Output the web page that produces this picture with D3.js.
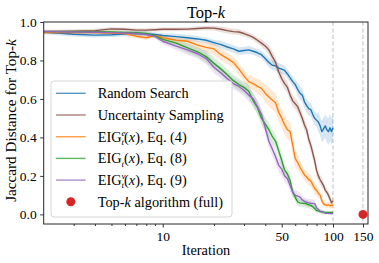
<!DOCTYPE html>
<html>
<head>
<meta charset="utf-8">
<script src="https://cdn.jsdelivr.net/npm/d3@7"></script>
<style>
  body { margin: 0; background: #fff; }
</style>
</head>
<body>
<svg id="chart"></svg>
<script>
// Iterations at which each curve is sampled
var iters = [2,3,4,5,6,7,8,9,10,12,14,16,18,20,22,24,26,28,30,32,34,36,38,40,42,44,46,48,50,
             52,54,56,58,60,62,64,66,68,70,72,74,76,78,80,82,84,86,88,90,92,94,96,98,100];

// Mean Jaccard distance per method
var randomSearch = [0.948,0.936,0.932,0.934,0.938,0.94,0.938,0.935,0.93,0.924,0.918,0.912,0.905,0.893,0.882,0.87,0.86,0.848,0.852,0.855,0.848,0.84,0.83,0.81,0.79,0.775,0.772,0.76,0.755,
                    0.748,0.73,0.71,0.69,0.675,0.65,0.63,0.62,0.585,0.565,0.55,0.545,0.52,0.5,0.49,0.48,0.46,0.43,0.445,0.46,0.44,0.43,0.45,0.43,0.45];
var uncertainty  = [0.95,0.952,0.955,0.964,0.962,0.958,0.958,0.96,0.962,0.962,0.963,0.966,0.969,0.968,0.962,0.955,0.95,0.948,0.94,0.93,0.92,0.905,0.89,0.875,0.855,0.82,0.79,0.74,0.705,
                    0.68,0.66,0.62,0.59,0.575,0.56,0.53,0.5,0.465,0.44,0.39,0.36,0.32,0.28,0.23,0.2,0.18,0.165,0.15,0.125,0.115,0.1,0.08,0.06,0.07];
var eigE         = [0.945,0.945,0.945,0.943,0.94,0.926,0.918,0.93,0.918,0.905,0.9,0.88,0.868,0.86,0.83,0.81,0.79,0.755,0.72,0.69,0.68,0.665,0.655,0.63,0.61,0.595,0.58,0.53,0.5,
                    0.465,0.44,0.43,0.36,0.29,0.27,0.245,0.225,0.205,0.195,0.18,0.175,0.155,0.135,0.125,0.11,0.1,0.07,0.055,0.05,0.047,0.05,0.045,0.047,0.047];
var eigT         = [0.95,0.95,0.949,0.948,0.946,0.945,0.94,0.928,0.91,0.89,0.865,0.845,0.82,0.785,0.755,0.725,0.695,0.675,0.66,0.64,0.59,0.555,0.5,0.47,0.44,0.405,0.38,0.33,0.28,
                    0.23,0.21,0.175,0.115,0.09,0.065,0.06,0.058,0.057,0.055,0.05,0.047,0.04,0.03,0.02,0.018,0.014,0.012,0.012,0.01,0.01,0.01,0.01,0.01,0.01];
var eigV         = [0.95,0.948,0.947,0.945,0.943,0.94,0.935,0.925,0.9,0.875,0.855,0.835,0.81,0.765,0.735,0.705,0.68,0.665,0.645,0.62,0.6,0.56,0.52,0.45,0.38,0.34,0.3,0.255,0.235,
                    0.2,0.185,0.15,0.115,0.1,0.095,0.09,0.075,0.068,0.063,0.06,0.058,0.057,0.056,0.035,0.025,0.017,0.015,0.01,0.006,0.005,0.005,0.004,0.004,0.004];

// Half-width of the shaded band per method
var randomSpread = [0.012,0.012,0.012,0.012,0.012,0.012,0.012,0.012,0.012,0.015,0.015,0.015,0.015,0.015,0.02,0.02,0.02,0.02,0.02,0.02,0.02,0.02,0.02,0.02,0.025,0.025,0.025,0.025,0.025,
                    0.025,0.025,0.025,0.025,0.025,0.035,0.035,0.035,0.035,0.035,0.035,0.035,0.035,0.035,0.035,0.05,0.05,0.055,0.06,0.06,0.065,0.07,0.07,0.07,0.07];
var uncertSpread = [0.01,0.01,0.01,0.01,0.01,0.01,0.01,0.01,0.01,0.01,0.01,0.012,0.012,0.012,0.015,0.015,0.015,0.015,0.015,0.015,0.015,0.015,0.02,0.02,0.025,0.03,0.03,0.03,0.03,
                    0.03,0.03,0.03,0.03,0.03,0.03,0.03,0.03,0.03,0.03,0.03,0.03,0.03,0.03,0.03,0.025,0.025,0.025,0.02,0.02,0.02,0.02,0.02,0.02,0.02];
var eigESpread   = [0.008,0.008,0.008,0.008,0.008,0.01,0.01,0.01,0.012,0.015,0.018,0.02,0.025,0.03,0.03,0.03,0.03,0.03,0.03,0.035,0.035,0.04,0.04,0.045,0.05,0.05,0.05,0.05,0.05,
                    0.05,0.05,0.05,0.05,0.045,0.04,0.035,0.03,0.03,0.03,0.03,0.03,0.03,0.03,0.03,0.025,0.02,0.02,0.015,0.015,0.015,0.015,0.015,0.015,0.015];
var eigTSpread   = [0.008,0.008,0.008,0.008,0.008,0.008,0.01,0.012,0.015,0.02,0.025,0.025,0.03,0.03,0.03,0.03,0.03,0.03,0.03,0.035,0.035,0.035,0.035,0.035,0.035,0.035,0.035,0.035,0.035,
                    0.03,0.03,0.03,0.025,0.02,0.02,0.02,0.02,0.02,0.02,0.02,0.02,0.015,0.015,0.012,0.01,0.01,0.01,0.01,0.008,0.008,0.008,0.008,0.008,0.008];
var eigVSpread   = [0.008,0.008,0.008,0.008,0.008,0.008,0.01,0.012,0.015,0.02,0.025,0.025,0.03,0.03,0.03,0.03,0.03,0.03,0.03,0.035,0.035,0.035,0.035,0.035,0.035,0.035,0.035,0.035,0.035,
                    0.03,0.03,0.03,0.025,0.025,0.025,0.02,0.02,0.02,0.02,0.02,0.02,0.02,0.02,0.015,0.012,0.01,0.01,0.008,0.006,0.005,0.005,0.004,0.004,0.004];

// Single point for the full top-k algorithm
var topkIter  = [150];
var topkValue = [0.0];

var xTicks = [10, 50, 100, 150];
var minorTicks = [3,4,5,6,7,8,9,20,30,40,60,70,80,90];
var yTicks = [0.0, 0.2, 0.4, 0.6, 0.8, 1.0];
var vLines = [100, 150];

var series = [
  {name: "Random Search",        mean: randomSearch, spread: randomSpread, colour: "#1f77b4"},
  {name: "Uncertainty Sampling", mean: uncertainty,  spread: uncertSpread, colour: "#8c564b"},
  {name: "eigE",                 mean: eigE,         spread: eigESpread,   colour: "#ff7f0e"},
  {name: "eigT",                 mean: eigT,         spread: eigTSpread,   colour: "#2ca02c"},
  {name: "eigV",                 mean: eigV,         spread: eigVSpread,   colour: "#9467bd"}
];

var FONT = "'Liberation Serif', 'Times New Roman', serif";
var W = 379, H = 263;
var margin = {left: 43.7, right: 11, top: 22, bottom: 39};

var svg = d3.select("#chart").attr("width", W).attr("height", H);

var xscale = d3.scaleLog().domain([2, 160.5]).range([margin.left, W - margin.right]);
var yscale = d3.scaleLinear().domain([-0.05, 1.0]).range([H - margin.bottom, margin.top]);

svg.append("clipPath").attr("id", "plotclip")
   .append("rect")
   .attr("x", margin.left).attr("y", margin.top)
   .attr("width", W - margin.right - margin.left)
   .attr("height", H - margin.bottom - margin.top);

var plot = svg.append("g").attr("clip-path", "url(#plotclip)");

// Dashed reference lines at the budget limits
plot.selectAll("line.vref")
    .data(vLines)
    .enter().append("line")
    .attr("class", "vref")
    .attr("x1", function(d) { return xscale(d); }).attr("x2", function(d) { return xscale(d); })
    .attr("y1", margin.top).attr("y2", H - margin.bottom)
    .attr("stroke", "#bdbdbd").attr("stroke-width", 1).style("stroke-dasharray", "4,2.5");

var area = d3.area()
    .x(function(d, i) { return xscale(iters[i]); })
    .y0(function(d) { return yscale(d[0] - d[1]); })
    .y1(function(d) { return yscale(d[0] + d[1]); });

var line = d3.line()
    .x(function(d, i) { return xscale(iters[i]); })
    .y(function(d) { return yscale(d); });

// Bands first, then mean lines on top
series.forEach(function(s) {
  var pts = s.mean.map(function(m, i) { return [m, s.spread[i]]; });
  plot.append("path").attr("d", area(pts))
      .attr("fill", s.colour).attr("fill-opacity", 0.18).attr("stroke", "none");
});
series.forEach(function(s) {
  plot.append("path").attr("d", line(s.mean))
      .attr("fill", "none").attr("stroke", s.colour).attr("stroke-width", 1.4)
      .attr("stroke-linejoin", "round");
});

svg.selectAll("circle.topk")
   .data(topkIter)
   .enter().append("circle")
   .attr("class", "topk")
   .attr("cx", function(d) { return xscale(d); })
   .attr("cy", function(d, i) { return yscale(topkValue[i]); })
   .attr("r", 4.5)
   .attr("fill", "#d62728");

// Axes
var x_axis = d3.axisBottom(xscale).tickValues(xTicks).tickFormat(d3.format("d")).tickSize(3.5).tickPadding(3);
var x_minor = d3.axisBottom(xscale).tickValues(minorTicks).tickFormat("").tickSize(2);
var y_axis = d3.axisLeft(yscale).tickValues(yTicks).tickFormat(d3.format(".1f")).tickSize(3.5).tickPadding(3.5);

var gx = svg.append("g").attr("transform", "translate(0," + (H - margin.bottom) + ")").call(x_axis);
var gxm = svg.append("g").attr("transform", "translate(0," + (H - margin.bottom) + ")").call(x_minor);
var gy = svg.append("g").attr("transform", "translate(" + margin.left + ",0)").call(y_axis);

[gx, gxm, gy].forEach(function(g) {
  g.attr("font-family", null).attr("font-size", null);
  g.select(".domain").remove();
  g.selectAll("line").attr("stroke", "#000").attr("stroke-width", 0.8);
  g.selectAll("text").attr("fill", "#000").style("font-size", "13.5px").style("font-family", FONT);
});
gx.selectAll("text").attr("dy", "0.78em");

// Frame
svg.append("rect")
   .attr("x", margin.left).attr("y", margin.top)
   .attr("width", W - margin.right - margin.left)
   .attr("height", H - margin.bottom - margin.top)
   .attr("fill", "none").attr("stroke", "#262626").attr("stroke-width", 1);

// Title
var title = svg.append("text")
   .attr("x", 206).attr("y", 18.3)
   .attr("text-anchor", "middle").style("font-size", "16.5px").style("font-family", FONT);
title.append("tspan").text("Top-");
title.append("tspan").style("font-style", "italic").text("k");

// Axis labels
svg.append("text")
   .attr("x", 206).attr("y", 255)
   .attr("text-anchor", "middle").style("font-size", "14.3px").style("font-family", FONT)
   .text("Iteration");

var ylab = svg.append("text")
   .attr("transform", "translate(16,120.5) rotate(-90)")
   .attr("text-anchor", "middle").style("font-size", "15.2px").style("font-family", FONT);
ylab.append("tspan").text("Jaccard Distance for Top-");
ylab.append("tspan").style("font-style", "italic").text("k");

// Legend
var legend = svg.append("g");
legend.append("rect")
      .attr("x", 51).attr("y", 81).attr("width", 181).attr("height", 136)
      .attr("rx", 3).attr("fill", "#fff").attr("fill-opacity", 0.8)
      .attr("stroke", "#d6d6d6").attr("stroke-width", 1);

var rowY = function(i) { return 93.3 + i * 21.7; };

// EIG label with stacked super/subscript, e.g. EIG^e_t(x), Eq. (4)
function eigLabel(txt, sup, sub, eq) {
  txt.append("tspan").text("EIG");
  if (sup) {
    txt.append("tspan").style("font-style", "italic").style("font-size", "9px").attr("dy", -6).text(sup);
    txt.append("tspan").style("font-style", "italic").style("font-size", "9px").attr("dx", -4).attr("dy", 9.5).text(sub);
    txt.append("tspan").attr("dy", -3.5).text("(");
  } else {
    txt.append("tspan").style("font-style", "italic").style("font-size", "9px").attr("dy", 3.5).text(sub);
    txt.append("tspan").attr("dy", -3.5).text("(");
  }
  txt.append("tspan").style("font-style", "italic").text("x");
  txt.append("tspan").text("), Eq. (" + eq + ")");
}

series.forEach(function(s, i) {
  legend.append("line")
        .attr("x1", 56).attr("x2", 85.7)
        .attr("y1", rowY(i)).attr("y2", rowY(i))
        .attr("stroke", s.colour).attr("stroke-opacity", 0.75).attr("stroke-width", 1.4);
  var t = legend.append("text").attr("x", 97.7).attr("y", rowY(i) + 4.8)
        .style("font-size", "14.3px").style("font-family", FONT);
  if (i == 0 || i == 1) t.text(s.name);
  if (i == 2) eigLabel(t, "e", "t", 4);
  if (i == 3) eigLabel(t, null, "t", 8);
  if (i == 4) eigLabel(t, "v", "t", 9);
});

legend.append("circle").attr("cx", 70.8).attr("cy", rowY(5)).attr("r", 4.5).attr("fill", "#d62728");
var lt = legend.append("text").attr("x", 97.7).attr("y", rowY(5) + 4.8)
      .style("font-size", "14.3px").style("font-family", FONT);
lt.append("tspan").text("Top-");
lt.append("tspan").style("font-style", "italic").text("k");
lt.append("tspan").text(" algorithm (full)");
</script>
</body>
</html>
